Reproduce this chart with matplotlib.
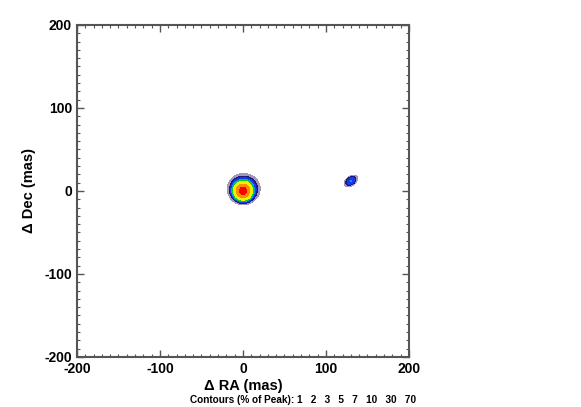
import numpy as np
import matplotlib
matplotlib.use('Agg')
import matplotlib.pyplot as plt
from matplotlib.ticker import MultipleLocator, FuncFormatter

plt.rcParams['font.family'] = ['Liberation Sans', 'DejaVu Sans']
plt.rcParams['font.weight'] = 'bold'
plt.rcParams['axes.labelweight'] = 'bold'

# image model: gaussian components (x, y, peak, sigma_major, sigma_minor, angle deg)
comp_x = [0.0, 1.0, 130.0]
comp_y = [0.0, 3.0, 12.0]
comp_peak = [1.0, 0.08, 0.055]
comp_smaj = [5.0, 9.8, 5.0]
comp_smin = [5.0, 9.0, 3.2]
comp_pa = [0.0, 0.0, 35.0]

levels_pct = [1, 2, 3, 5, 7, 10, 30, 70]
level_colors = ['#a498b8', '#1c1a78', '#1838f0', '#00a8c8', '#10d010',
                '#f0f000', '#ff8c00', '#ff0000']
tick_vals = [-200, -100, 0, 100, 200]

grid = np.linspace(-200, 200, 801)
X, Y = np.meshgrid(grid, grid)
img = np.zeros_like(X)
for cx, cy, pk, sa, sb, pa in zip(comp_x, comp_y, comp_peak, comp_smaj, comp_smin, comp_pa):
    t = np.deg2rad(pa)
    u = (X - cx) * np.cos(t) + (Y - cy) * np.sin(t)
    v = -(X - cx) * np.sin(t) + (Y - cy) * np.cos(t)
    img += pk * np.exp(-0.5 * ((u / sa) ** 2 + (v / sb) ** 2))
img = 100 * img / img.max()

fig = plt.figure(figsize=(5.81, 4.07), dpi=100)
ax = fig.add_axes([0.1325, 0.1229, 0.5714, 0.8157])
ax.contourf(X, Y, img, levels=levels_pct + [101], colors=level_colors)

ax.set_xlim(-200, 200)
ax.set_ylim(-200, 200)
ax.set_xticks(tick_vals)
ax.set_yticks(tick_vals)
fmt = FuncFormatter(lambda v, p: '%d' % v)
ax.xaxis.set_major_formatter(fmt)
ax.yaxis.set_major_formatter(fmt)
ax.xaxis.set_minor_locator(MultipleLocator(10))
ax.yaxis.set_minor_locator(MultipleLocator(10))
ax.tick_params(which='both', direction='in', top=True, right=True, color='#555555',
               labelsize=10)
ax.tick_params(which='major', length=5, width=1)
ax.tick_params(which='minor', length=2.5, width=0.8)
for sp in ax.spines.values():
    sp.set_color('#555555')
    sp.set_linewidth(1.5)

ax.set_xlabel('Δ RA (mas)', fontsize=10.5, labelpad=2)
ax.set_ylabel('Δ Dec (mas)', fontsize=10.5, labelpad=6)
fig.text(0.521, 0.017, 'Contours (% of Peak): ' + '   '.join(str(l) for l in levels_pct),
         fontsize=7.2, ha='center', va='center')

fig.savefig('out.png', dpi=100)
